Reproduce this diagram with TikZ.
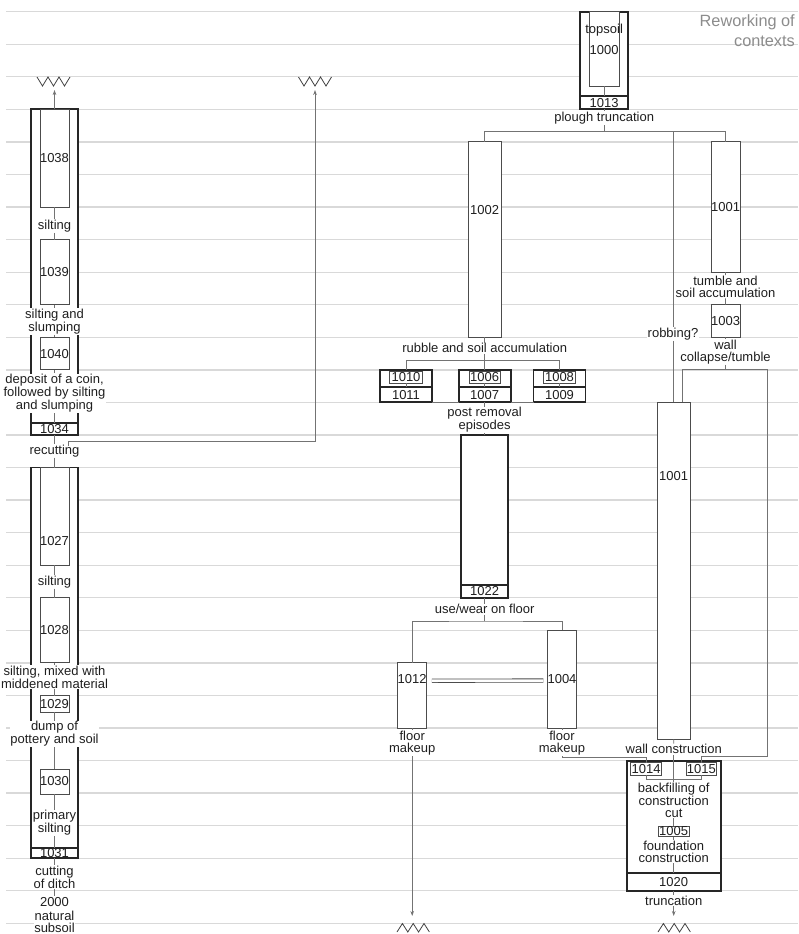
\documentclass[tikz,border=0pt]{standalone}
\usepackage{fontspec}
\setmainfont{Liberation Sans}
\usetikzlibrary{arrows.meta,calc}
\newcommand{\mtxt}{\fontsize{13}{12}\selectfont}
\begin{document}
\begin{tikzpicture}[x=1pt,y=-1pt,
  gridline/.style={draw=black!15,line width=1.3pt},
  thickbox/.style={draw=black!85,line width=1.9pt,fill=white,inner sep=0pt,outer sep=0pt,font=\mtxt,text=black!88,anchor=north west},
  thinbox/.style={draw=black!70,line width=0.9pt,fill=white,inner sep=0pt,outer sep=0pt,font=\mtxt,text=black!88,anchor=north west},
  cell/.style={thickbox,anchor=south west},
  conn/.style={draw=black!55,line width=0.8pt},
  arr/.style={conn,-{Stealth[length=5pt,width=3.6pt]}},
  lbl/.style={fill=white,inner sep=0.6pt,align=center,font=\mtxt,text=black!88},
  num/.style={inner sep=0pt,font=\mtxt,text=black!88},
  zig/.style={draw=black!75,line width=0.8pt,line join=miter},
  eqline/.style={draw=black!70,line width=0.8pt,double=white,double distance=2.6pt}
]
\useasboundingbox (0,0) rectangle (798,934);
\foreach \k in {0,...,28} \draw[gridline] (6,{11.7+32.56*\k}) -- (798,{11.7+32.56*\k});

\node[anchor=north east,align=right,text=black!45,inner sep=0pt,font=\fontsize{16.3}{19.3}\selectfont] (title) at (795,14.8) {Reworking of\\contexts};

% ---------- ditch, upper fill ----------
\node[thickbox,minimum width=47,minimum height=325.6] (ditchA) at (31,109.4) {};
\node[cell,minimum width=47,minimum height=12] (b1034) at (31,435) {1034};
\node[thinbox,minimum width=29,minimum height=97.7] (b1038) at (40,109.4) {1038};
\node[lbl] (lsilt1) at (54.5,226) {silting};
\node[thinbox,minimum width=29,minimum height=65.1] (b1039) at (40,239.6) {1039};
\node[lbl] (lsilt2) at (54.5,321.5) {silting and\\slumping};
\node[thinbox,minimum width=29,minimum height=32.6] (b1040) at (40,337.3) {1040};
\node[lbl] (ldep) at (54.5,393.3) {deposit of a coin,\\followed by silting\\and slumping};
\node[lbl] (lrecut) at (54.5,450.7) {recutting};

% ---------- ditch, lower fill ----------
\node[thickbox,minimum width=47,minimum height=390.8] (ditchB) at (31,467.5) {};
\node[cell,minimum width=47,minimum height=10] (b1031) at (31,858.3) {1031};
\node[thinbox,minimum width=29,minimum height=97.7] (b1027) at (40,467.5) {};
\node[num] (t1027) at (54.5,540.7) {1027};
\node[lbl] (lsilt3) at (54.5,581.7) {silting};
\node[thinbox,minimum width=29,minimum height=65.1] (b1028) at (40,597.8) {1028};
\node[lbl] (lmid) at (54.5,677) {silting, mixed with\\middened material};
\node[thinbox,minimum width=29,minimum height=16.5] (b1029) at (40,695.5) {1029};
\node[lbl] (ldump) at (54.5,734) {dump of\\pottery and soil};
\node[thinbox,minimum width=29,minimum height=25] (b1030) at (40,769) {1030};
\node[lbl] (lprim) at (54.5,823) {primary\\silting};
\node[lbl] (lcut) at (54.5,877.2) {cutting\\of ditch};
\node[lbl] (lnat) at (54.5,914.7) {2000\\[2pt]natural\\subsoil};

% ---------- topsoil ----------
\node[thickbox,minimum width=48.3,minimum height=97.7] (btop) at (580,11.7) {};
\node[cell,minimum width=48.3,minimum height=13.4] (b1013) at (580,109.4) {1013};
\node[thinbox,minimum width=29.7,minimum height=74.3] (b1000) at (589.3,11.7) {};
\node[num] (ttop) at (604.15,30) {topsoil};
\node[num] (t1000) at (604.15,50) {1000};
\node[lbl] (lplough) at (604.15,118.3) {plough truncation};
\coordinate (pbar) at (604.15,131.7);
\coordinate (rb) at (673,131.7);

% ---------- middle column ----------
\node[thinbox,minimum width=32.7,minimum height=195.4] (b1002) at (468.3,141.9) {};
\node[num] (t1002) at (484.65,210) {1002};
\node[lbl] (lrubble) at (484.65,348.3) {rubble and soil accumulation};
\coordinate (rbar) at (484.65,360.7);

\node[thickbox,minimum width=52,minimum height=32.5] (g1) at (380,369.9) {};
\node[cell,minimum width=52,minimum height=15.1] (b1011) at (380,402.4) {1011};
\node[thinbox,anchor=north,minimum width=33,minimum height=11.5] (b1010) at (406,371.5) {1010};
\node[thickbox,minimum width=52,minimum height=32.5] (g2) at (458.65,369.9) {};
\node[cell,minimum width=52,minimum height=15.1] (b1007) at (458.65,402.4) {1007};
\node[thinbox,anchor=north,minimum width=31,minimum height=11.5] (b1006) at (484.65,371.5) {1006};
\node[thickbox,minimum width=52,minimum height=32.5] (g3) at (533.5,369.9) {};
\node[cell,minimum width=52,minimum height=15.1] (b1009) at (533.5,402.4) {1009};
\node[thinbox,anchor=north,minimum width=32,minimum height=11.5] (b1008) at (559.5,371.5) {1008};

\node[lbl] (lpost) at (484.65,420) {post removal\\episodes};
\node[thickbox,minimum width=47.4,minimum height=162.8] (b1022) at (460.95,435) {};
\node[cell,minimum width=47.4,minimum height=12.8] (b1022c) at (460.95,597.8) {1022};
\node[lbl] (luse) at (484.65,609.3) {use/wear on floor};
\coordinate (ubar) at (484.65,621);

\node[thinbox,minimum width=29,minimum height=65.1] (b1012) at (397.7,662.9) {};
\node[num] (t1012) at (412.2,679.3) {1012};
\node[thinbox,minimum width=29.4,minimum height=97.7] (b1004) at (547.3,630.3) {1004};
\node[lbl] (lfm1) at (412.2,743.3) {floor\\makeup};
\node[lbl] (lfm2) at (562,743.3) {floor\\makeup};
\coordinate (zz3) at (412.2,916);

% ---------- right column ----------
\node[thinbox,minimum width=28.6,minimum height=130.3] (b1001a) at (711.2,141.9) {1001};
\node[lbl] (ltumble) at (725.5,286.7) {tumble and\\soil accumulation};
\node[thinbox,minimum width=28.6,minimum height=32.6] (b1003) at (711.2,304.7) {1003};
\node[lbl] (lcoll) at (725.5,351.7) {wall\\collapse/tumble};
\coordinate (cbar) at (725.5,369.6);
\coordinate (cL) at (682.7,369.6);
\coordinate (cLb) at (682.7,402.4);
\coordinate (cR) at (767,369.6);
\coordinate (cRb) at (767,756.5);
\node[lbl] (lrob) at (673,334) {robbing?};
\coordinate (rbb) at (673,402.4);
\node[thinbox,minimum width=32.7,minimum height=336.9] (b1001b) at (657.3,402.4) {};
\node[num] (t1001b) at (673.65,476) {1001};
\node[lbl] (lwall) at (673.7,749.3) {wall construction};

\node[thickbox,minimum width=94,minimum height=130.2] (bcut) at (626.7,760.6) {};
\node[cell,minimum width=94,minimum height=18.1] (b1020) at (626.7,890.8) {1020};
\node[thinbox,minimum width=31,minimum height=12.3] (b1014) at (630.7,762.7) {1014};
\node[thinbox,minimum width=29.3,minimum height=12.3] (b1015) at (686.7,762.7) {1015};
\coordinate (wbar) at (673.7,779.3);
\node[lbl] (lback) at (673.7,800) {backfilling of\\construction\\cut};
\node[thinbox,anchor=north,minimum width=30.7,minimum height=10.7] (b1005) at (673.7,826) {1005};
\node[lbl] (lfound) at (673.7,851.7) {foundation\\construction};
\node[lbl] (ltrunc) at (673.7,900.7) {truncation};
\coordinate (zz4) at (673.7,916);

% ---------- zigzag ends ----------
\coordinate (zz1) at (54.5,90);
\coordinate (zz2) at (315,90);
\coordinate (rc1) at (68.3,446);
\draw[zig] (37,77) -- (42.5,86) -- (48,77) -- (53.5,86) -- (59,77) -- (64.5,86) -- (70,77);
\draw[zig] (298.5,77) -- (304,86) -- (309.5,77) -- (315,86) -- (320.5,77) -- (326,86) -- (331.5,77);
\draw[zig] (397,932) -- (402.4,923.5) -- (407.8,932) -- (413.2,923.5) -- (418.6,932) -- (424,923.5) -- (429.4,932);
\draw[zig] (658,932) -- (663.4,923.5) -- (668.8,932) -- (674.2,923.5) -- (679.6,932) -- (685,923.5) -- (690.4,932);

% ---------- connectors ----------
\draw[arr] (ditchA.north) -- (zz1);
\draw[arr] (rc1) -- ++(0,-4.3) -| (zz2);
\draw[conn] (b1038) -- (lsilt1);
\draw[conn] (lsilt1) -- (b1039);
\draw[conn] (b1039) -- (lsilt2);
\draw[conn] (lsilt2) -- (b1040);
\draw[conn] (b1040) -- (ldep);
\draw[conn] (ldep) -- (b1034);
\draw[conn] (b1034) -- (lrecut);
\draw[conn] (lrecut) -- (ditchB);
\draw[conn] (b1027) -- (lsilt3);
\draw[conn] (lsilt3) -- (b1028);
\draw[conn] (b1028) -- (lmid);
\draw[conn] (lmid) -- (b1029);
\draw[conn] (b1029) -- (ldump);
\draw[conn] (ldump) -- (b1030);
\draw[conn] (b1030) -- (lprim);
\draw[conn] (lprim) -- (b1031);
\draw[conn] (b1031) -- (lcut);
\draw[conn] (lcut) -- (lnat);

\draw[conn] (b1000) -- (b1013);
\draw[conn] (b1013) -- (lplough);
\draw[conn] (lplough) -- (pbar);
\draw[conn] (b1002.north) |- (pbar) -| (b1001a.north);
\draw[conn] (rb) -- (lrob);
\draw[conn] (lrob) -- (rbb);
\draw[conn] (b1002) -- (lrubble);
\draw[conn] (lrubble) -- (g2);
\draw[conn] (g1.north) |- (rbar) -| (g3.north);
\draw[conn] (b1010) -- (b1011);
\draw[conn] (b1006) -- (b1007);
\draw[conn] (b1008) -- (b1009);
\draw[conn] (b1011.south east) -- (b1007.south west);
\draw[conn] (b1007.south east) -- (b1009.south west);
\draw[conn] (b1007) -- (lpost);
\draw[conn] (lpost) -- (b1022);
\draw[conn] (b1022c) -- (luse);
\draw[conn] (luse) -- (ubar);
\draw[conn] (b1012.north) |- (ubar) -| (b1004.north);
\draw[eqline] ([xshift=5pt,yshift=-1.4pt]t1012.east) -- ([xshift=-4pt,yshift=-1.4pt]b1004.west);
\draw[conn] (b1012) -- (lfm1);
\draw[conn] (b1004) -- (lfm2);
\draw[arr] (lfm1) -- (zz3);
\draw[conn] (lfm2.south) -- ++(0,1) -| (b1014.north);

\draw[conn] (b1001a) -- (ltumble);
\draw[conn] (ltumble) -- (b1003);
\draw[conn] (b1003) -- (lcoll);
\draw[conn] (lcoll) -- (cbar);
\draw[conn] (cLb) -- (cL) -- (cR) -- (cRb) -| (b1015.north);
\draw[conn] (b1001b) -- (lwall);
\draw[conn] (lwall) -- (lback);
\draw[conn] (b1014.south) |- (wbar) -| (b1015.south);
\draw[conn] (lback) -- (b1005);
\draw[conn] (b1005) -- (lfound);
\draw[conn] (lfound) -- (b1020);
\draw[conn] (b1020) -- (ltrunc);
\draw[arr] (ltrunc) -- (zz4);
\end{tikzpicture}
\end{document}
